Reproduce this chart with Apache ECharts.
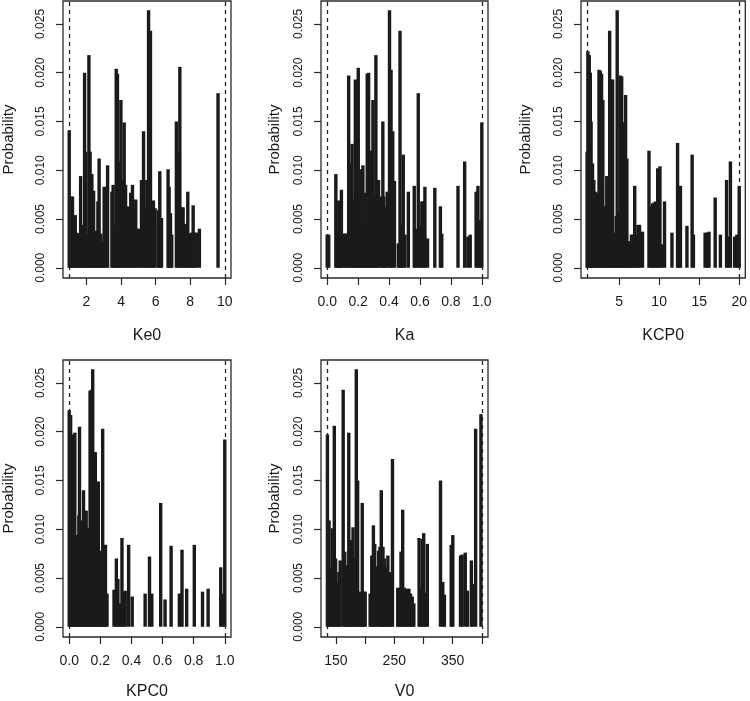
<!DOCTYPE html>
<html>
<head>
<meta charset="utf-8">
<script src="https://cdn.jsdelivr.net/npm/echarts@6/dist/echarts.min.js"></script>
<style>
  html, body { margin: 0; padding: 0; background: #fff; }
  #chart { width: 750px; height: 701px; }
</style>
</head>
<body>
<div id="chart"></div>
<script>
// spike positions and probabilities
var ke0X = [1.00, 1.12, 1.19, 1.29, 1.35, 1.42, 1.50, 1.58, 1.66, 1.73, 1.81, 1.89, 1.96, 2.04, 2.14, 2.21, 2.31, 2.41, 2.48, 2.56,
  2.66, 2.73, 2.83, 2.91, 3.02, 3.12, 3.22, 3.47, 3.54, 3.62, 3.72, 3.79, 3.89, 3.99, 4.08, 4.18, 4.26, 4.37, 4.47, 4.56,
  4.66, 4.76, 4.85, 4.97, 5.05, 5.18, 5.30, 5.39, 5.49, 5.59, 5.70, 5.78, 5.87, 5.97, 6.16, 6.24, 6.34, 6.72, 6.78, 6.86,
  6.93, 7.20, 7.30, 7.40, 7.49, 7.59, 7.68, 7.78, 7.86, 7.97, 8.07, 8.17, 8.26, 8.36, 8.53, 9.61]
var ke0P = [0.0141, 0.0073, 0.0073, 0.0034, 0.0054, 0.0036, 0.0035, 0.0035, 0.0094, 0.0044, 0.0034, 0.0200, 0.0119, 0.0035, 0.0218, 0.0119, 0.0096, 0.0079, 0.0037, 0.0038,
  0.0068, 0.0112, 0.0035, 0.0027, 0.0083, 0.0083, 0.0105, 0.0078, 0.0085, 0.0044, 0.0204, 0.0199, 0.0109, 0.0172, 0.0090, 0.0149, 0.0085, 0.0063, 0.0062, 0.0077,
  0.0085, 0.0060, 0.0070, 0.0040, 0.0040, 0.0090, 0.0140, 0.0062, 0.0090, 0.0264, 0.0243, 0.0068, 0.0069, 0.0061, 0.0059, 0.0099, 0.0051, 0.0101, 0.0083, 0.0056,
  0.0034, 0.0150, 0.0119, 0.0206, 0.0062, 0.0062, 0.0045, 0.0042, 0.0078, 0.0035, 0.0036, 0.0064, 0.0036, 0.0036, 0.0040, 0.0179]

var kaX = [0.000, 0.010, 0.056, 0.066, 0.075, 0.085, 0.092, 0.105, 0.118, 0.130, 0.139, 0.148, 0.161, 0.171, 0.182, 0.191, 0.201, 0.212, 0.221, 0.231,
  0.242, 0.249, 0.259, 0.268, 0.276, 0.285, 0.296, 0.302, 0.315, 0.324, 0.332, 0.349, 0.360, 0.366, 0.377, 0.388, 0.403, 0.413, 0.424, 0.435,
  0.460, 0.471, 0.482, 0.492, 0.503, 0.525, 0.563, 0.574, 0.589, 0.598, 0.612, 0.621, 0.632, 0.649, 0.696, 0.732, 0.741, 0.846, 0.889, 0.910,
  0.925, 0.963, 0.975, 0.985, 1.000]
var kaP = [0.0034, 0.0034, 0.0096, 0.0034, 0.0069, 0.0045, 0.0080, 0.0035, 0.0035, 0.0035, 0.0197, 0.0107, 0.0127, 0.0070, 0.0193, 0.0077, 0.0205, 0.0075, 0.0101, 0.0105,
  0.0043, 0.0077, 0.0199, 0.0200, 0.0120, 0.0120, 0.0172, 0.0073, 0.0218, 0.0090, 0.0090, 0.0073, 0.0150, 0.0073, 0.0062, 0.0078, 0.0264, 0.0203, 0.0140, 0.0089,
  0.0025, 0.0243, 0.0044, 0.0116, 0.0034, 0.0078, 0.0084, 0.0040, 0.0179, 0.0043, 0.0068, 0.0068, 0.0083, 0.0030, 0.0082, 0.0063, 0.0035, 0.0084, 0.0109, 0.0032,
  0.0034, 0.0078, 0.0084, 0.0049, 0.0149]

var kcp0X = [1.00, 1.10, 1.27, 1.40, 1.50, 1.68, 1.84, 2.00, 2.16, 2.32, 2.49, 2.65, 2.81, 2.97, 3.14, 3.30, 3.46, 3.62, 3.82, 3.99,
  4.19, 4.35, 4.64, 4.76, 4.97, 5.16, 5.32, 5.49, 5.65, 5.81, 5.97, 6.18, 6.34, 6.54, 6.70, 6.95, 7.11, 7.35, 7.55, 7.92,
  8.73, 8.97, 9.18, 9.38, 9.58, 9.82, 10.10, 10.30, 10.67, 11.60, 12.30, 12.46, 12.66, 13.47, 14.12, 14.28, 15.74, 15.98, 16.23, 17.00,
  17.65, 18.42, 18.62, 18.90, 19.43, 19.71, 20.00]
var kcp0P = [0.0119, 0.0222, 0.0218, 0.0200, 0.0150, 0.0107, 0.0090, 0.0078, 0.0077, 0.0024, 0.0203, 0.0202, 0.0199, 0.0172, 0.0063, 0.0039, 0.0094, 0.0094, 0.0243, 0.0193,
  0.0193, 0.0036, 0.0053, 0.0264, 0.0056, 0.0197, 0.0196, 0.0149, 0.0149, 0.0177, 0.0112, 0.0027, 0.0027, 0.0034, 0.0034, 0.0084, 0.0034, 0.0044, 0.0044, 0.0037,
  0.0120, 0.0063, 0.0066, 0.0067, 0.0068, 0.0102, 0.0104, 0.0024, 0.0068, 0.0036, 0.0128, 0.0062, 0.0084, 0.0043, 0.0116, 0.0034, 0.0036, 0.0036, 0.0037, 0.0072,
  0.0034, 0.0090, 0.0032, 0.0109, 0.0032, 0.0034, 0.0084]

var kpc0X = [0.000, 0.009, 0.017, 0.026, 0.036, 0.045, 0.053, 0.062, 0.066, 0.077, 0.085, 0.092, 0.100, 0.109, 0.117, 0.126, 0.134, 0.143, 0.151, 0.160,
  0.168, 0.179, 0.187, 0.196, 0.205, 0.215, 0.224, 0.233, 0.243, 0.288, 0.303, 0.313, 0.324, 0.339, 0.350, 0.360, 0.382, 0.405, 0.488, 0.516,
  0.531, 0.588, 0.616, 0.655, 0.708, 0.725, 0.755, 0.804, 0.857, 0.893, 0.974, 0.985, 1.000]
var kpc0P = [0.0222, 0.0217, 0.0197, 0.0197, 0.0199, 0.0094, 0.0094, 0.0114, 0.0205, 0.0109, 0.0065, 0.0140, 0.0119, 0.0119, 0.0101, 0.0090, 0.0242, 0.0243, 0.0264, 0.0179,
  0.0179, 0.0073, 0.0149, 0.0073, 0.0078, 0.0203, 0.0084, 0.0084, 0.0034, 0.0038, 0.0070, 0.0049, 0.0024, 0.0091, 0.0036, 0.0037, 0.0084, 0.0031, 0.0034, 0.0072,
  0.0034, 0.0127, 0.0028, 0.0083, 0.0034, 0.0079, 0.0039, 0.0084, 0.0036, 0.0039, 0.0061, 0.0034, 0.0192]

var v0X = [135.4, 138.2, 141.0, 143.8, 147.2, 149.4, 152.3, 155.1, 157.3, 162.4, 165.2, 167.5, 169.7, 172.0, 174.8, 177.0, 179.3, 181.5, 184.9, 187.2,
  190.0, 192.3, 195.1, 197.3, 200.1, 208.6, 211.4, 214.2, 216.5, 219.0, 223.2, 225.4, 227.7, 230.6, 232.8, 235.6, 239.0, 241.6, 244.3, 246.9,
  255.9, 258.7, 261.5, 264.4, 267.2, 269.5, 272.3, 275.1, 277.9, 280.7, 283.5, 292.5, 295.4, 298.2, 300.4, 303.8, 306.6, 329.2, 333.1, 335.9,
  347.5, 350.3, 363.5, 366.3, 371.6, 375.4, 382.1, 384.4, 389.4, 398.5]
var v0P = [0.0197, 0.0109, 0.0060, 0.0101, 0.0206, 0.0070, 0.0045, 0.0056, 0.0068, 0.0243, 0.0077, 0.0034, 0.0063, 0.0199, 0.0089, 0.0063, 0.0102, 0.0070, 0.0264, 0.0150,
  0.0036, 0.0034, 0.0127, 0.0036, 0.0036, 0.0034, 0.0073, 0.0104, 0.0085, 0.0062, 0.0078, 0.0082, 0.0140, 0.0082, 0.0070, 0.0061, 0.0073, 0.0056, 0.0055, 0.0172,
  0.0040, 0.0040, 0.0077, 0.0120, 0.0040, 0.0036, 0.0039, 0.0039, 0.0034, 0.0031, 0.0024, 0.0091, 0.0039, 0.0090, 0.0096, 0.0035, 0.0085, 0.0150, 0.0046, 0.0033,
  0.0084, 0.0094, 0.0073, 0.0074, 0.0076, 0.0037, 0.0068, 0.0044, 0.0203, 0.0218]

var names = ['Ke0', 'Ka', 'KCP0', 'KPC0', 'V0']
var xs = [ke0X, kaX, kcp0X, kpc0X, v0X]
var ps = [ke0P, kaP, kcp0P, kpc0P, v0P]
var bounds = [[1, 10], [0, 1], [1, 20], [0, 1], [135, 400]]
var xRanges = [[0.64, 10.36], [-0.04, 1.04], [0.24, 20.76], [-0.04, 1.04], [124.4, 410.6]]
var xTicks = [[2, 4, 6, 8, 10], [0, 0.2, 0.4, 0.6, 0.8, 1], [5, 10, 15, 20], [0, 0.2, 0.4, 0.6, 0.8, 1], [150, 200, 250, 300, 350, 400]]
var xLabels = [[2, 4, 6, 8, 10], [0, 0.2, 0.4, 0.6, 0.8, 1], [5, 10, 15, 20], [0, 0.2, 0.4, 0.6, 0.8, 1], [150, 250, 350]]
var yTicks = [0, 0.005, 0.01, 0.015, 0.02, 0.025]

var font = 'Liberation Sans, Arial, Helvetica, sans-serif'
var ink = '#1a1a1a'
var boxes = [
  { left: 63, top: 1, width: 168, height: 277, yGap: 47 },
  { left: 321, top: 1, width: 167, height: 277, yGap: 39 },
  { left: 581, top: 1, width: 168, height: 277, yGap: 48 },
  { left: 63, top: 360, width: 168, height: 279, yGap: 47 },
  { left: 321, top: 360, width: 167, height: 279, yGap: 39 }
]

// R type="h": a vertical stroke from 0 up to each probability
function spike(params, api) {
  var p0 = api.coord([api.value(0), 0])
  var p1 = api.coord([api.value(0), api.value(1)])
  return {
    type: 'line',
    shape: { x1: p0[0], y1: p0[1], x2: p1[0], y2: p1[1] },
    style: { stroke: ink, lineWidth: 3.4, lineCap: 'butt' }
  }
}

var grid = []
var xAxis = []
var yAxis = []
var series = []
boxes.forEach(function (b, i) {
  grid.push({
    left: b.left, top: b.top, width: b.width, height: b.height,
    show: true, borderColor: '#2a2a2a', borderWidth: 1.3, backgroundColor: 'transparent'
  })
  xAxis.push({
    type: 'value', gridIndex: i,
    min: xRanges[i][0], max: xRanges[i][1],
    name: names[i], nameLocation: 'middle', nameGap: i < 3 ? 50 : 47,
    nameTextStyle: { fontSize: 16, color: ink, fontFamily: font },
    axisLine: { show: false, onZero: false },
    axisTick: { show: true, length: 7, customValues: xTicks[i], lineStyle: { color: '#2a2a2a', width: 1.2 } },
    axisLabel: {
      customValues: xLabels[i], margin: 17, fontSize: 14, color: ink, fontFamily: font,
      formatter: function (v) { return (i === 1 || i === 3) ? v.toFixed(1) : String(v) }
    },
    splitLine: { show: false }
  })
  yAxis.push({
    type: 'value', gridIndex: i,
    min: -0.00105, max: 0.02735,
    name: 'Probability', nameLocation: 'middle', nameGap: b.yGap,
    nameTextStyle: { fontSize: 15, color: ink, fontFamily: font },
    axisLine: { show: false, onZero: false },
    axisTick: { show: true, length: 7, customValues: yTicks, lineStyle: { color: '#2a2a2a', width: 1.2 } },
    axisLabel: {
      customValues: yTicks, rotate: 90, margin: 16, fontSize: 12, color: ink, fontFamily: font,
      formatter: function (v) { return v.toFixed(3) }
    },
    splitLine: { show: false }
  })
  series.push({
    type: 'custom', xAxisIndex: i, yAxisIndex: i,
    renderItem: spike,
    clip: true,
    data: xs[i].map(function (x, k) { return [x, ps[i][k]] })
  })
  series.push({
    type: 'line', xAxisIndex: i, yAxisIndex: i,
    data: [],
    markLine: {
      silent: true, symbol: 'none', animation: false,
      label: { show: false },
      lineStyle: { color: '#222', width: 1.3, type: [4, 4] },
      data: [{ xAxis: bounds[i][0] }, { xAxis: bounds[i][1] }]
    }
  })
})

var chart = echarts.init(document.getElementById('chart'))
chart.setOption({
  animation: false,
  grid: grid,
  xAxis: xAxis,
  yAxis: yAxis,
  series: series
})
</script>
</body>
</html>
